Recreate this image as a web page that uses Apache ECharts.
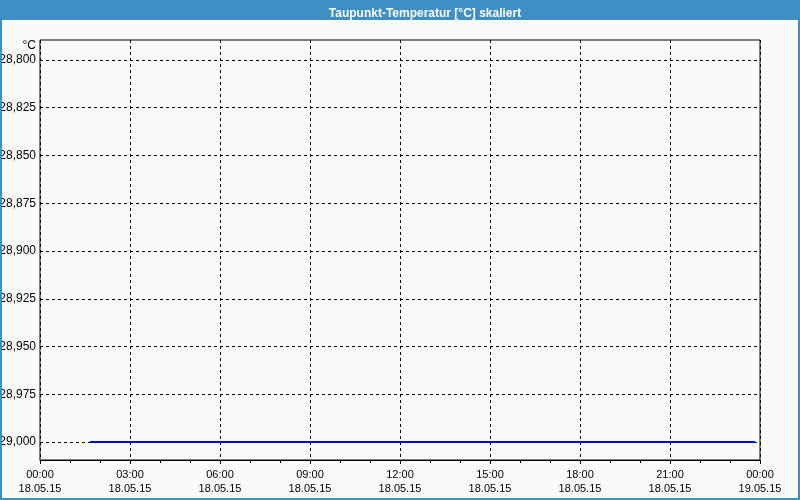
<!DOCTYPE html>
<html>
<head>
<meta charset="utf-8">
<script src="https://cdn.jsdelivr.net/npm/echarts@6/dist/echarts.min.js"></script>
<style>
html,body{margin:0;padding:0;background:#fff;}
#c{width:800px;height:500px;}
</style>
</head>
<body>
<div id="c"></div>
<script>
// ---- data ----
const titleText = 'Taupunkt-Temperatur [°C] skaliert';
const unitLabel = '°C';
const xStart = '2015-05-18T00:00:00Z';
const xEnd = '2015-05-19T00:00:00Z';
const xTickHours = 3;
const yTickMin = -29.0;
const yTickMax = -28.8;
const yTickStep = 0.025;
const seriesTimes = ['2015-05-18T01:40:00Z', '2015-05-18T06:00:00Z', '2015-05-18T12:00:00Z', '2015-05-18T18:00:00Z', '2015-05-18T23:50:00Z'];
const seriesValues = [-29.0, -29.0, -29.0, -29.0, -29.0];

function pad(n){return (n<10?'0':'')+n;}
function fmtTime(v){
  const d = new Date(v);
  return pad(d.getUTCHours())+':'+pad(d.getUTCMinutes())+'\n'+pad(d.getUTCDate())+'.'+pad(d.getUTCMonth()+1)+'.'+pad(d.getUTCFullYear()%100);
}
const font = '"Liberation Sans", Arial, sans-serif';
const chart = echarts.init(document.getElementById('c'), null, {renderer:'canvas'});
const startMs = Date.parse(xStart);
const endMs = Date.parse(xEnd);
const stepMs = xTickHours*3600*1000;
const data = seriesTimes.map((t,i)=>[Date.parse(t), seriesValues[i]]);

chart.setOption({
  backgroundColor:'#fafcf9',
  animation:false,
  title:{
    text:titleText, left:420, top:3, textAlign:'center', z:200,
    textStyle:{color:'#ffffff', fontSize:12, fontWeight:'bold', fontFamily:font}
  },
  graphic:[
    {type:'rect', left:0, top:0, z:100, shape:{width:800,height:20}, style:{fill:'#3d8fc6'}},
    {type:'rect', left:0, top:0, z:100, shape:{width:2,height:500}, style:{fill:'#3d8fc6'}},
    {type:'rect', right:0, top:0, z:100, shape:{width:2,height:500}, style:{fill:'#3d8fc6'}},
    {type:'rect', left:0, bottom:0, z:100, shape:{width:800,height:2}, style:{fill:'#3d8fc6'}}
  ],
  grid:[
    {left:40, right:40, top:40, height:420, show:true, borderColor:'#000', borderWidth:1, backgroundColor:'#fafcf9', outerBoundsMode:'none', containLabel:false},
    {left:40, right:40, top:60, height:382, outerBoundsMode:'none', containLabel:false}
  ],
  xAxis:[
    {type:'value', gridIndex:0, min:startMs, max:endMs, interval:stepMs,
     axisLine:{show:true, onZero:false, lineStyle:{color:'#000', width:1}},
     axisTick:{show:true, inside:false, length:4, lineStyle:{color:'#000'}},
     minorTick:{show:true, splitNumber:3, length:3, lineStyle:{color:'#000'}},
     splitLine:{show:true, lineStyle:{color:'#000', type:[3,3], width:1}},
     axisLabel:{formatter:fmtTime, color:'#000', fontSize:11, fontFamily:font, lineHeight:14, margin:8, showMinLabel:true, showMaxLabel:true}
    },
    {type:'value', gridIndex:1, min:startMs, max:endMs, show:false}
  ],
  yAxis:[
    {type:'value', gridIndex:0, show:false, min:0, max:1, splitLine:{show:false}},
    {type:'value', gridIndex:1, min:yTickMin, max:yTickMax, interval:yTickStep,
     name:unitLabel, nameLocation:'end', nameGap:8,
     nameTextStyle:{color:'#000', fontSize:12, fontFamily:font, align:'right', padding:[0,4,0,0]},
     axisLine:{show:false}, axisTick:{show:false},
     splitLine:{show:true, lineStyle:{color:'#000', type:[3,3], width:1}},
     axisLabel:{color:'#000', fontSize:12, fontFamily:font, margin:4,
       formatter:v=>v.toFixed(3).replace('.',',')}
    }
  ],
  series:[{
    type:'line', xAxisIndex:1, yAxisIndex:1, data:data, showSymbol:false,
    lineStyle:{color:'#0000e0', width:2}, z:5
  }]
});
</script>
</body>
</html>
